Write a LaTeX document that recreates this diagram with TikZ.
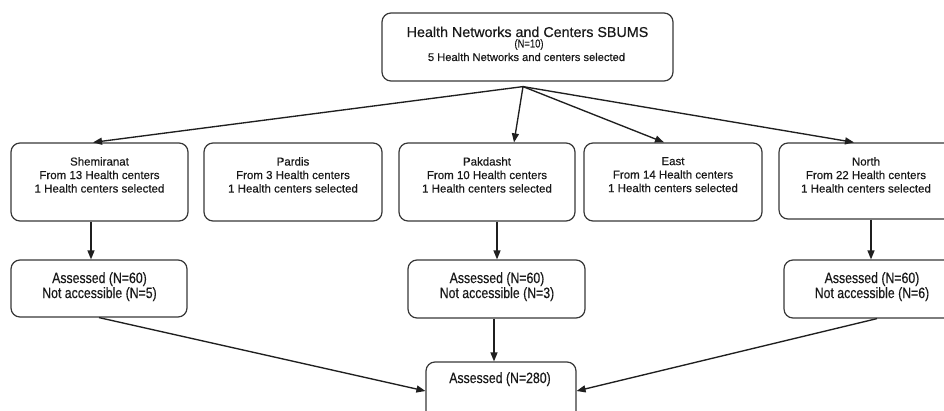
\documentclass[tikz,border=0pt]{standalone}
\usepackage{fontspec}
\setmainfont[FakeBold=0.4]{Liberation Sans}
\newfontfamily\narrowfont[FakeStretch=0.82,FakeBold=0.3]{Liberation Sans}
\usetikzlibrary{arrows.meta}
\tikzset{
  box/.style={draw=black!78, line width=1.2pt, rounded corners=9pt, inner sep=0pt, fill=white},
  arr/.style={draw=black!88, line width=1.35pt, -{Triangle[length=9pt,width=7pt]}},
  rowtxt/.style={anchor=north, align=center, inner sep=0pt, text=black!90,
    font=\fontsize{11.5}{13.5}\selectfont},
  asstxt/.style={anchor=north, align=center, inner sep=0pt, text=black!90,
    font=\narrowfont\fontsize{15}{15}\selectfont},
  titletxt/.style={anchor=base, inner sep=0pt, text=black!90, text depth=0pt,
    font=\fontsize{14.3}{15}\selectfont},
  subtxt/.style={anchor=base, inner sep=0pt, text=black!90, text height=8pt, text depth=0pt,
    font=\narrowfont\fontsize{11.5}{12}\selectfont},
  seltxt/.style={anchor=base, inner sep=0pt, text=black!90, font=\fontsize{11.15}{13}\selectfont}
}
\begin{document}
\begin{tikzpicture}[x=1pt,y=-1pt]
\path[use as bounding box, clip] (0,0) rectangle (944,411);
\fill[white] (0,0) rectangle (944,411);

% top box
\node[box, minimum width=291pt, minimum height=68pt] (top) at (527.5,47) {};
\node[titletxt] (t1) at (527.5,37) {Health Networks and Centers SBUMS};
\node[subtxt] (t2) at (529,47.5) {(N=10)};
\node[seltxt] (t3) at (526.5,61) {5 Health Networks and centers selected};

% second row
\node[box, minimum width=177pt, minimum height=78pt] (shem) at (99.5,182) {};
\node[box, minimum width=178pt, minimum height=78pt] (pard) at (293,182) {};
\node[box, minimum width=176pt, minimum height=78pt] (pak) at (487,182) {};
\node[box, minimum width=178pt, minimum height=78pt] (east) at (673,182) {};
\node[box, minimum width=174pt, minimum height=76pt] (north) at (866,181) {};

\node[rowtxt] (shemt) at (99.5,157) {Shemiranat\\From 13 Health centers\\1 Health centers selected};
\node[rowtxt] (pardt) at (293,157) {Pardis\\From 3 Health centers\\1 Health centers selected};
\node[rowtxt] (pakt) at (487,157) {Pakdasht\\From 10 Health centers\\1 Health centers selected};
\node[rowtxt] (eastt) at (673,157) {East\\From 14 Health centers\\1 Health centers selected};
\node[rowtxt] (northt) at (866,157) {North\\From 22 Health centers\\1 Health centers selected};

% third row
\node[box, minimum width=176pt, minimum height=57pt] (a1) at (99,288.5) {};
\node[box, minimum width=177pt, minimum height=58pt] (a2) at (496.5,289) {};
\node[box, minimum width=176pt, minimum height=58pt] (a3) at (872,289) {};
\node[asstxt] (a1t) at (99.5,272) {Assessed (N=60)\\Not accessible (N=5)};
\node[asstxt] (a2t) at (497,272) {Assessed (N=60)\\Not accessible (N=3)};
\node[asstxt] (a3t) at (872,272) {Assessed (N=60)\\Not accessible (N=6)};

% final
\node[box, minimum width=150pt, minimum height=60pt] (fin) at (501,392) {};
\node[asstxt] (fint) at (500,372) {Assessed (N=280)};

% connectors
\coordinate (src) at ([xshift=-4.5pt,yshift=-5pt]top.south);
\draw[arr] (src) -- ([xshift=-6.5pt]shem.north);
\draw[arr] (src) -- ([xshift=27pt]pak.north);
\draw[arr] (src) -- ([xshift=-9pt]east.north);
\draw[arr] (src) -- ([xshift=-12pt]north.north);

\draw[arr] ([xshift=-8.5pt]shem.south) -- ([xshift=-8pt]a1.north);
\draw[arr] ([xshift=10pt]pak.south) -- ([xshift=0.5pt]a2.north);
\draw[arr] ([xshift=5pt]north.south) -- ([xshift=-1pt]a3.north);

\draw[arr] (a1.south) -- ([yshift=1pt]fin.west);
\draw[arr] ([xshift=-2.5pt]a2.south) -- ([xshift=-7pt]fin.north);
\draw[arr] ([xshift=5pt]a3.south) -- ([yshift=1pt]fin.east);
\end{tikzpicture}
\end{document}
